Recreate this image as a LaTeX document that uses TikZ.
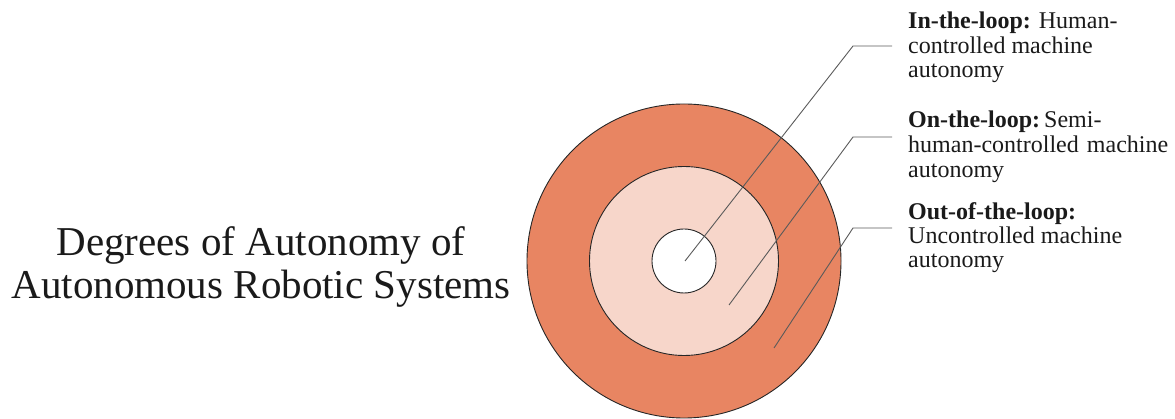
\documentclass[tikz,border=0pt]{standalone}
\usepackage{fontspec}
\setmainfont{Liberation Serif}
\definecolor{outerC}{HTML}{E88562}
\definecolor{midC}{HTML}{F7D6CA}
\definecolor{leadC}{HTML}{5A5A5A}
\definecolor{txtC}{HTML}{1A1A1A}
\begin{document}
\begin{tikzpicture}[x=1pt,y=-1pt,
  ring/.style={circle, draw=black!85, line width=0.9pt, inner sep=0pt, outer sep=0pt},
  leader/.style={draw=leadC, line width=0.9pt},
  lbl/.style={anchor=base west, inner sep=0pt, text=txtC, font=\fontsize{24}{28}\selectfont},
  titlelbl/.style={anchor=base, inner sep=0pt, text=txtC, font=\fontsize{41}{45}\selectfont}]
\useasboundingbox (0,0) rectangle (1175,419);
% rings
\node[ring, fill=outerC, minimum size=314pt] (outer) at (684,261) {};
\node[ring, fill=midC, minimum size=189pt] (mid) at (684,261) {};
\node[ring, fill=white, minimum size=64pt] (inner) at (684,261) {};
% leader points
\coordinate (p1) at (685,261);
\coordinate (e1) at (853,46);
\coordinate (h1) at (892,46);
\coordinate (p2) at (729,305);
\coordinate (e2) at (853,137);
\coordinate (h2) at (892,137);
\coordinate (p3) at (774,348);
\coordinate (e3) at (853,228);
\coordinate (h3) at (892,228);
\draw[leader] (p1) -- (e1) -- (h1);
\draw[leader] (p2) -- (e2) -- (h2);
\draw[leader] (p3) -- (e3) -- (h3);
% labels
\node[lbl] (a1) at (908,29) {\textbf{In-the-loop:} Human-};
\node[lbl] (a2) at (908,53.5) {controlled machine};
\node[lbl] (a3) at (908,78) {autonomy};
\node[lbl] (b1) at (908,128) {\textbf{On-the-loop:}\,Semi-};
\node[lbl] (b2) at (908,153) {\hbox to 260pt{human-controlled\hfill machine}};
\node[lbl] (b3) at (908,178) {autonomy};
\node[lbl] (c1) at (908,220) {\textbf{Out-of-the-loop:}};
\node[lbl] (c2) at (908,244) {Uncontrolled machine};
\node[lbl] (c3) at (908,268) {autonomy};
% title
\node[titlelbl] (t1) at (261,256) {Degrees of Autonomy of};
\node[titlelbl] (t2) at (261,299) {Autonomous Robotic Systems};
\end{tikzpicture}
\end{document}
